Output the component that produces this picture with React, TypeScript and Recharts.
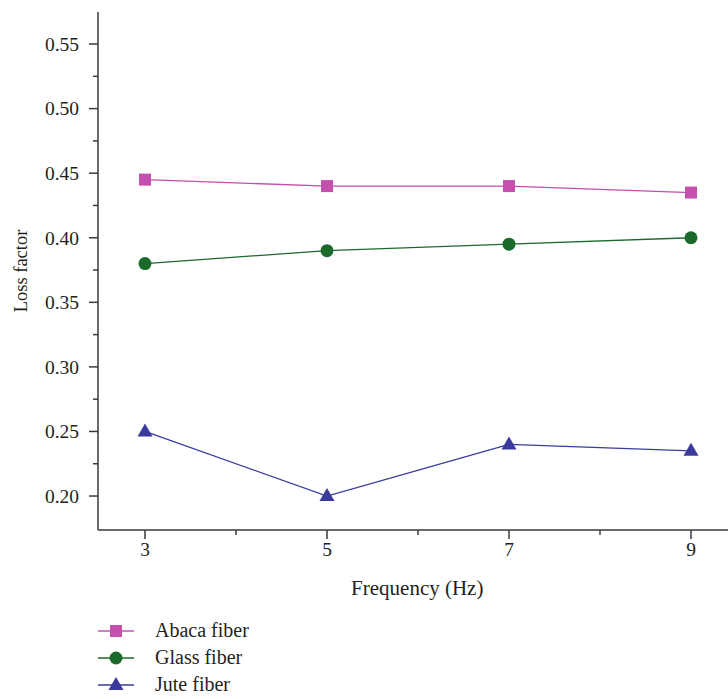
import { LineChart, Line, XAxis, YAxis, Legend } from "recharts";

const frequency = [3, 5, 7, 9];
const abaca = [0.445, 0.44, 0.44, 0.435];
const glass = [0.38, 0.39, 0.395, 0.4];
const jute = [0.25, 0.2, 0.24, 0.235];

const xTicks = [3, 4, 5, 6, 7, 8, 9];
const xLabels = [3, 5, 7, 9];
const yTicks = [0.2, 0.225, 0.25, 0.275, 0.3, 0.325, 0.35, 0.375, 0.4, 0.425, 0.45, 0.475, 0.5, 0.525, 0.55];
const yLabels = [0.2, 0.25, 0.3, 0.35, 0.4, 0.45, 0.5, 0.55];

const series = [
  { key: "abaca", name: "Abaca fiber", color: "#C44FAC", shape: "square", values: abaca },
  { key: "glass", name: "Glass fiber", color: "#1B6A2C", shape: "circle", values: glass },
  { key: "jute", name: "Jute fiber", color: "#3A3A9E", shape: "triangle", values: jute },
];

const data = frequency.map((f, i) => {
  const row: Record<string, number> = { f };
  series.forEach((s) => (row[s.key] = s.values[i]));
  return row;
});

const FONT = "'Liberation Serif', 'DejaVu Serif', serif";
const TEXT = "#231F20";
const AXIS = "#3A3A3A";

function Marker({ cx, cy, shape, color }: any) {
  if (shape === "square") return <rect x={cx - 6} y={cy - 6} width={12} height={12} fill={color} />;
  if (shape === "circle") return <circle cx={cx} cy={cy} r={6.5} fill={color} />;
  return <path d={`M${cx},${cy - 8} L${cx + 7.5},${cy + 5} L${cx - 7.5},${cy + 5} Z`} fill={color} />;
}

function YTick({ x, y, payload }: any) {
  const major = yLabels.some((v) => Math.abs(v - payload.value) < 1e-6);
  return (
    <g>
      <line x1={x - (major ? 9 : 5)} x2={x} y1={y} y2={y} stroke={AXIS} strokeWidth={1.5} />
      {major && (
        <text x={x - 19} y={y} dy="0.35em" textAnchor="end" fontSize={19.5} fontFamily={FONT} fill={TEXT}>
          {payload.value.toFixed(2)}
        </text>
      )}
    </g>
  );
}

function XTick({ x, y, payload }: any) {
  const major = xLabels.includes(payload.value);
  return (
    <g>
      <line x1={x} x2={x} y1={y} y2={y + (major ? 9 : 5)} stroke={AXIS} strokeWidth={1.5} />
      {major && (
        <text x={x} y={y + 26} textAnchor="middle" fontSize={19.5} fontFamily={FONT} fill={TEXT}>
          {payload.value}
        </text>
      )}
    </g>
  );
}

function LegendContent() {
  return (
    <div style={{ fontFamily: FONT, fontSize: 20, color: TEXT }}>
      {series.map((s) => (
        <div key={s.key} style={{ display: "flex", alignItems: "center", height: 27 }}>
          <svg width={36} height={20} style={{ marginRight: 21 }}>
            <line x1={0} x2={36} y1={10} y2={10} stroke={s.color} strokeWidth={1.5} />
            <Marker cx={18} cy={10} shape={s.shape} color={s.color} />
          </svg>
          <span>{s.name}</span>
        </div>
      ))}
    </div>
  );
}

export default function App() {
  return (
    <div style={{ position: "absolute", left: 0, top: 0, width: 728, height: 699, overflow: "hidden", background: "#fff" }}>
      <LineChart width={740} height={699} data={data} margin={{ top: 12, right: 3.5, bottom: 99, left: 0 }}>
        <XAxis
          dataKey="f"
          type="number"
          domain={[2.4835, 9.5]}
          ticks={xTicks}
          allowDataOverflow
          height={70}
          tickSize={0}
          tickMargin={0}
          tickLine={false}
          tick={<XTick />}
          axisLine={{ stroke: AXIS, strokeWidth: 1.5 }}
          label={{ value: "Frequency (Hz)", position: "insideBottom", offset: 5, style: { fontFamily: FONT, fontSize: 21, fill: TEXT } }}
        />
        <XAxis
          xAxisId="top"
          orientation="top"
          type="number"
          domain={[2.4835, 9.5]}
          height={0}
          tick={false}
          tickLine={false}
          axisLine={{ stroke: AXIS, strokeWidth: 1.5 }}
        />
        <YAxis
          type="number"
          domain={[0.1737, 0.5748]}
          ticks={yTicks}
          allowDataOverflow
          width={98}
          tickSize={0}
          tickMargin={0}
          tickLine={false}
          tick={<YTick />}
          axisLine={{ stroke: AXIS, strokeWidth: 1.5 }}
          label={{ value: "Loss factor", angle: -90, position: "insideLeft", offset: 20, style: { textAnchor: "middle", fontFamily: FONT, fontSize: 18.5, fill: TEXT } }}
        />
        {series.map((s) => (
          <Line
            key={s.key}
            dataKey={s.key}
            name={s.name}
            stroke={s.color}
            strokeWidth={1.3}
            isAnimationActive={false}
            dot={(p: any) => <Marker key={`${s.key}-${p.index}`} cx={p.cx} cy={p.cy} shape={s.shape} color={s.color} />}
            activeDot={false}
          />
        ))}
        <Legend
          layout="vertical"
          align="center"
          verticalAlign="middle"
          content={<LegendContent />}
          wrapperStyle={{ left: 98, top: 617, width: 300, height: 81 }}
        />
      </LineChart>
    </div>
  );
}
